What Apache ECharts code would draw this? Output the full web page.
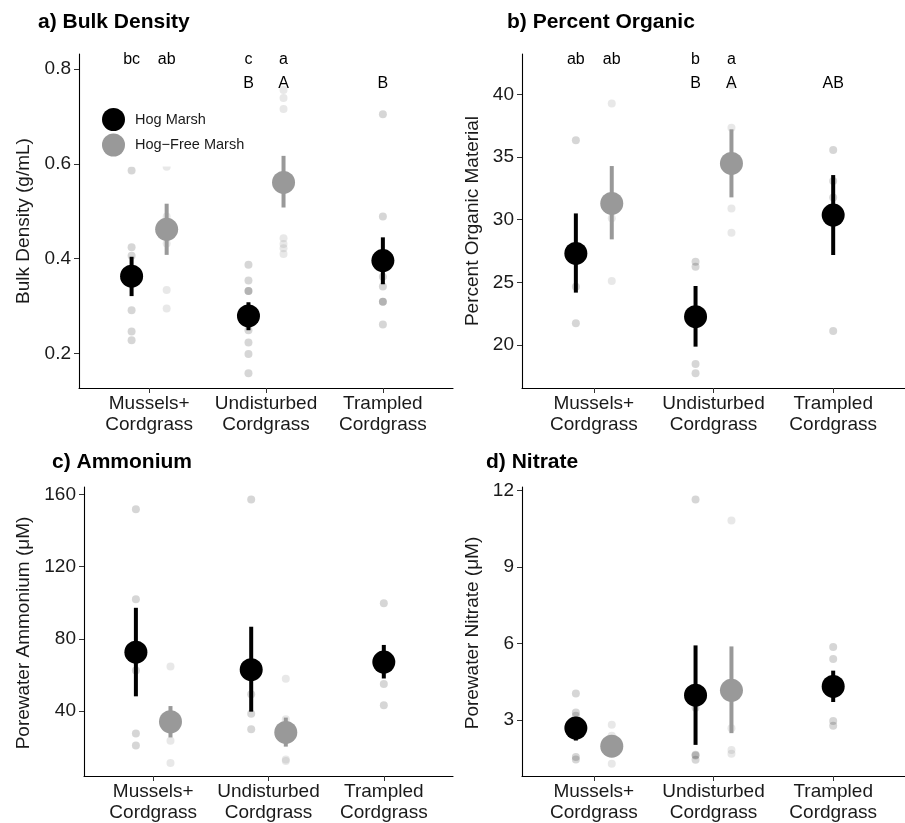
<!DOCTYPE html>
<html>
<head>
<meta charset="utf-8">
<script src="https://cdn.jsdelivr.net/npm/echarts@6/dist/echarts.min.js"></script>
<style>
html,body{margin:0;padding:0;background:#fff;}
#chart{width:905px;height:823px;}
</style>
</head>
<body>
<div id="chart"></div>
<script>
// ---------- data ----------
const categories = ['Mussels+\nCordgrass', 'Undisturbed\nCordgrass', 'Trampled\nCordgrass'];
const groupNames = ['Hog Marsh', 'Hog\u2212Free Marsh'];

// a) Bulk Density
const bulkHogRaw = [[0.586, 0.424, 0.406, 0.291, 0.246, 0.228], [0.387, 0.354, 0.332, 0.332, 0.249, 0.223, 0.199, 0.158], [0.705, 0.489, 0.362, 0.341, 0.309, 0.309, 0.261]];
const bulkFreeRaw = [[0.594, 0.489, 0.432, 0.334, 0.295], [0.756, 0.739, 0.716, 0.443, 0.431, 0.422, 0.410]];
const bulkHogMean = [0.363, 0.279, 0.396];
const bulkHogLo = [0.321, 0.249, 0.346];
const bulkHogHi = [0.404, 0.308, 0.445];
const bulkFreeMean = [0.462, 0.561];
const bulkFreeLo = [0.408, 0.508];
const bulkFreeHi = [0.516, 0.617];
const bulkTicks = [0.2, 0.4, 0.6, 0.8];
const bulkLettersHog = [['bc', 'c', ''], ['', 'B', 'B']];
const bulkLettersFree = [['ab', 'a'], ['', 'A']];

// b) Percent Organic
const orgHogRaw = [[36.33, 24.65, 21.73], [26.65, 26.25, 18.48, 17.74], [35.56, 33.08, 31.78, 21.12]];
const orgFreeRaw = [[39.28, 30.11, 25.11], [40.74, 37.34, 30.90, 28.96]];
const orgHogMean = [27.31, 22.26, 30.37];
const orgHogLo = [24.18, 19.87, 27.18];
const orgHogHi = [30.50, 24.71, 33.56];
const orgFreeMean = [31.30, 34.49];
const orgFreeLo = [28.43, 31.78];
const orgFreeHi = [34.28, 37.21];
const orgTicks = [20, 25, 30, 35, 40];
const orgLettersHog = [['ab', 'b', ''], ['', 'B', 'AB']];
const orgLettersFree = [['ab', 'a'], ['', 'A']];

// c) Ammonium
const ammHogRaw = [[151.8, 101.9, 62.4, 27.5, 20.8], [157.3, 49.2, 38.5, 29.9], [99.7, 67.5, 55.0, 43.1]];
const ammFreeRaw = [[64.7, 35.0, 23.5, 11.1], [57.8, 35.4, 13.1, 12.2]];
const ammHogMean = [72.6, 62.9, 67.1];
const ammHogLo = [48.1, 39.6, 58.0];
const ammHogHi = [97.2, 86.7, 76.6];
const ammFreeMean = [34.0, 28.1];
const ammFreeLo = [25.3, 20.2];
const ammFreeHi = [42.7, 36.3];
const ammTicks = [40, 80, 120, 160];

// d) Nitrate
const nitHogRaw = [[4.04, 3.30, 3.17, 1.55, 1.46], [11.65, 3.49, 1.64, 1.61, 1.45], [5.87, 5.40, 2.97, 2.78]];
const nitFreeRaw = [[2.82, 2.39, 1.29], [10.83, 2.68, 1.83, 1.68]];
const nitHogMean = [2.69, 3.98, 4.32];
const nitHogLo = [2.20, 2.03, 3.71];
const nitHogHi = [3.13, 5.93, 4.94];
const nitFreeMean = [1.98, 4.17];
const nitFreeLo = [1.80, 2.49];
const nitFreeHi = [2.16, 5.89];
const nitTicks = [3, 6, 9, 12];

// ---------- layout / style ----------
const FONT = '"Liberation Sans", Arial, Helvetica, sans-serif';
const DODGE = 0.15;
const HOG_COLOR = '#000000';
const FREE_COLOR = '#999999';

const panels = [
  { title: 'a) Bulk Density', titlePos: [38, 22], yName: 'Bulk Density (g/mL)', yNamePos: [23.7, 221],
    grid: { left: 79, top: 54, width: 374, height: 334 }, yMin: 0.127, yMax: 0.832, ticks: bulkTicks, dec: 1,
    hogRaw: bulkHogRaw, freeRaw: bulkFreeRaw, hogMean: bulkHogMean, hogLo: bulkHogLo, hogHi: bulkHogHi,
    freeMean: bulkFreeMean, freeLo: bulkFreeLo, freeHi: bulkFreeHi,
    lettersHog: bulkLettersHog, lettersFree: bulkLettersFree, letterY: [0.820, 0.769] },
  { title: 'b) Percent Organic', titlePos: [507, 22], yName: 'Percent Organic Material', yNamePos: [472.5, 221],
    grid: { left: 522, top: 54, width: 383, height: 334 }, yMin: 16.57, yMax: 43.22, ticks: orgTicks, dec: 0,
    hogRaw: orgHogRaw, freeRaw: orgFreeRaw, hogMean: orgHogMean, hogLo: orgHogLo, hogHi: orgHogHi,
    freeMean: orgFreeMean, freeLo: orgFreeLo, freeHi: orgFreeHi,
    lettersHog: orgLettersHog, lettersFree: orgLettersFree, letterY: [42.74, 40.82] },
  { title: 'c) Ammonium', titlePos: [52, 462], yName: 'Porewater Ammonium (\u03bcM)', yNamePos: [24, 633],
    grid: { left: 84, top: 487, width: 369, height: 292 }, yMin: 3.91, yMax: 164.2, ticks: ammTicks, dec: 0,
    hogRaw: ammHogRaw, freeRaw: ammFreeRaw, hogMean: ammHogMean, hogLo: ammHogLo, hogHi: ammHogHi,
    freeMean: ammFreeMean, freeLo: ammFreeLo, freeHi: ammFreeHi },
  { title: 'd) Nitrate', titlePos: [486, 462], yName: 'Porewater Nitrate (\u03bcM)', yNamePos: [472.5, 633],
    grid: { left: 522, top: 487, width: 383, height: 292 }, yMin: 0.81, yMax: 12.14, ticks: nitTicks, dec: 0,
    hogRaw: nitHogRaw, freeRaw: nitFreeRaw, hogMean: nitHogMean, hogLo: nitHogLo, hogHi: nitHogHi,
    freeMean: nitFreeMean, freeLo: nitFreeLo, freeHi: nitFreeHi }
];

function xPos(catIdx, group, nGroups) {
  if (nGroups === 1) return catIdx + 1;
  return catIdx + 1 + (group === 0 ? -DODGE : DODGE);
}
function groupsAt(p, ci) { return ci < p.freeMean.length ? 2 : 1; }

const grids = [], xAxes = [], yAxes = [], series = [], graphics = [];

function errRender(color) {
  return function (params, api) {
    const a = api.coord([api.value(0), api.value(1)]);
    const b = api.coord([api.value(0), api.value(2)]);
    return { type: 'line', shape: { x1: a[0], y1: a[1], x2: b[0], y2: b[1] },
      style: { stroke: color, lineWidth: 4 } };
  };
}

panels.forEach((p, i) => {
  grids.push(Object.assign({ containLabel: false }, p.grid));
  xAxes.push({
    type: 'value', gridIndex: i, min: 0.4, max: 3.6,
    splitLine: { show: false },
    axisLine: { show: true, onZero: false, lineStyle: { color: '#000', width: 1.1 } },
    axisTick: { show: true, length: 5, customValues: [1, 2, 3], lineStyle: { color: '#333', width: 1 } },
    axisLabel: { show: true, customValues: [1, 2, 3], margin: 5, fontSize: 19, lineHeight: 21, color: '#1a1a1a', fontFamily: FONT,
      formatter: v => categories[Math.round(v) - 1] || '' }
  });
  yAxes.push({
    type: 'value', gridIndex: i, min: p.yMin, max: p.yMax,
    splitLine: { show: false },
    axisLine: { show: true, onZero: false, lineStyle: { color: '#000', width: 1.1 } },
    axisTick: { show: true, length: 5, customValues: p.ticks, lineStyle: { color: '#333', width: 1 } },
    axisLabel: { show: true, customValues: p.ticks, margin: 8, fontSize: 19, color: '#1a1a1a', fontFamily: FONT,
      formatter: v => Number(v).toFixed(p.dec) }
  });

  // raw points
  const hogRawData = [], freeRawData = [];
  p.hogRaw.forEach((arr, ci) => arr.forEach(v => hogRawData.push([xPos(ci, 0, groupsAt(p, ci)), v])));
  p.freeRaw.forEach((arr, ci) => arr.forEach(v => freeRawData.push([xPos(ci, 1, 2), v])));
  series.push({ type: 'scatter', name: 'raw-hog-' + i, xAxisIndex: i, yAxisIndex: i, data: hogRawData,
    symbolSize: 8, itemStyle: { color: 'rgba(0,0,0,0.2)' }, silent: true, z: 1 });
  series.push({ type: 'scatter', name: 'raw-free-' + i, xAxisIndex: i, yAxisIndex: i, data: freeRawData,
    symbolSize: 8, itemStyle: { color: 'rgba(153,153,153,0.28)' }, silent: true, z: 1 });

  // error bars
  series.push({ type: 'custom', name: 'err-hog-' + i, xAxisIndex: i, yAxisIndex: i, z: 2,
    renderItem: errRender(HOG_COLOR), encode: { x: 0, y: [1, 2] },
    data: p.hogMean.map((m, ci) => [xPos(ci, 0, groupsAt(p, ci)), p.hogLo[ci], p.hogHi[ci]]) });
  series.push({ type: 'custom', name: 'err-free-' + i, xAxisIndex: i, yAxisIndex: i, z: 2,
    renderItem: errRender(FREE_COLOR), encode: { x: 0, y: [1, 2] },
    data: p.freeMean.map((m, ci) => [xPos(ci, 1, 2), p.freeLo[ci], p.freeHi[ci]]) });

  // means
  series.push({ type: 'scatter', name: groupNames[0], xAxisIndex: i, yAxisIndex: i, z: 3,
    symbolSize: 23, itemStyle: { color: HOG_COLOR, opacity: 1 },
    data: p.hogMean.map((m, ci) => [xPos(ci, 0, groupsAt(p, ci)), m]) });
  series.push({ type: 'scatter', name: groupNames[1], xAxisIndex: i, yAxisIndex: i, z: 3,
    symbolSize: 23, itemStyle: { color: FREE_COLOR, opacity: 1 },
    data: p.freeMean.map((m, ci) => [xPos(ci, 1, 2), m]) });

  // significance letters
  if (p.lettersHog) {
    const ld = [];
    p.lettersHog.forEach((row, r) => row.forEach((t, ci) => { if (t) ld.push([xPos(ci, 0, groupsAt(p, ci)), p.letterY[r], t]); }));
    p.lettersFree.forEach((row, r) => row.forEach((t, ci) => { if (t) ld.push([xPos(ci, 1, 2), p.letterY[r], t]); }));
    series.push({ type: 'scatter', name: 'letters-' + i, xAxisIndex: i, yAxisIndex: i, z: 4, silent: true,
      symbol: 'rect', symbolSize: 0, itemStyle: { color: '#000', opacity: 1 }, data: ld,
      label: { show: true, position: 'inside', formatter: q => q.value[2], fontSize: 16, color: '#000', opacity: 1, fontFamily: FONT } });
  }

  graphics.push({ type: 'text', x: p.titlePos[0], y: p.titlePos[1],
    style: { text: p.title, font: 'bold 21px ' + FONT, fill: '#000', textVerticalAlign: 'middle', textAlign: 'left' } });
  graphics.push({ type: 'text', x: p.yNamePos[0], y: p.yNamePos[1], rotation: Math.PI / 2,
    style: { text: p.yName, font: '19px ' + FONT, fill: '#1a1a1a', textVerticalAlign: 'middle', textAlign: 'center' } });
});

const option = {
  backgroundColor: '#ffffff',
  animation: false,
  textStyle: { fontFamily: FONT },
  grid: grids, xAxis: xAxes, yAxis: yAxes, series: series,
  legend: {
    data: groupNames, orient: 'vertical', left: 97, top: 103,
    padding: [5, 5, 10, 5], backgroundColor: '#ffffff',
    itemWidth: 33, itemHeight: 23, itemGap: 2.5, icon: 'circle', symbolKeepAspect: true,
    selectedMode: false,
    textStyle: { fontSize: 14.5, color: '#1a1a1a', fontFamily: FONT }
  },
  graphic: graphics
};

const chart = echarts.init(document.getElementById('chart'), null, { renderer: 'canvas' });
chart.setOption(option);
</script>
</body>
</html>
